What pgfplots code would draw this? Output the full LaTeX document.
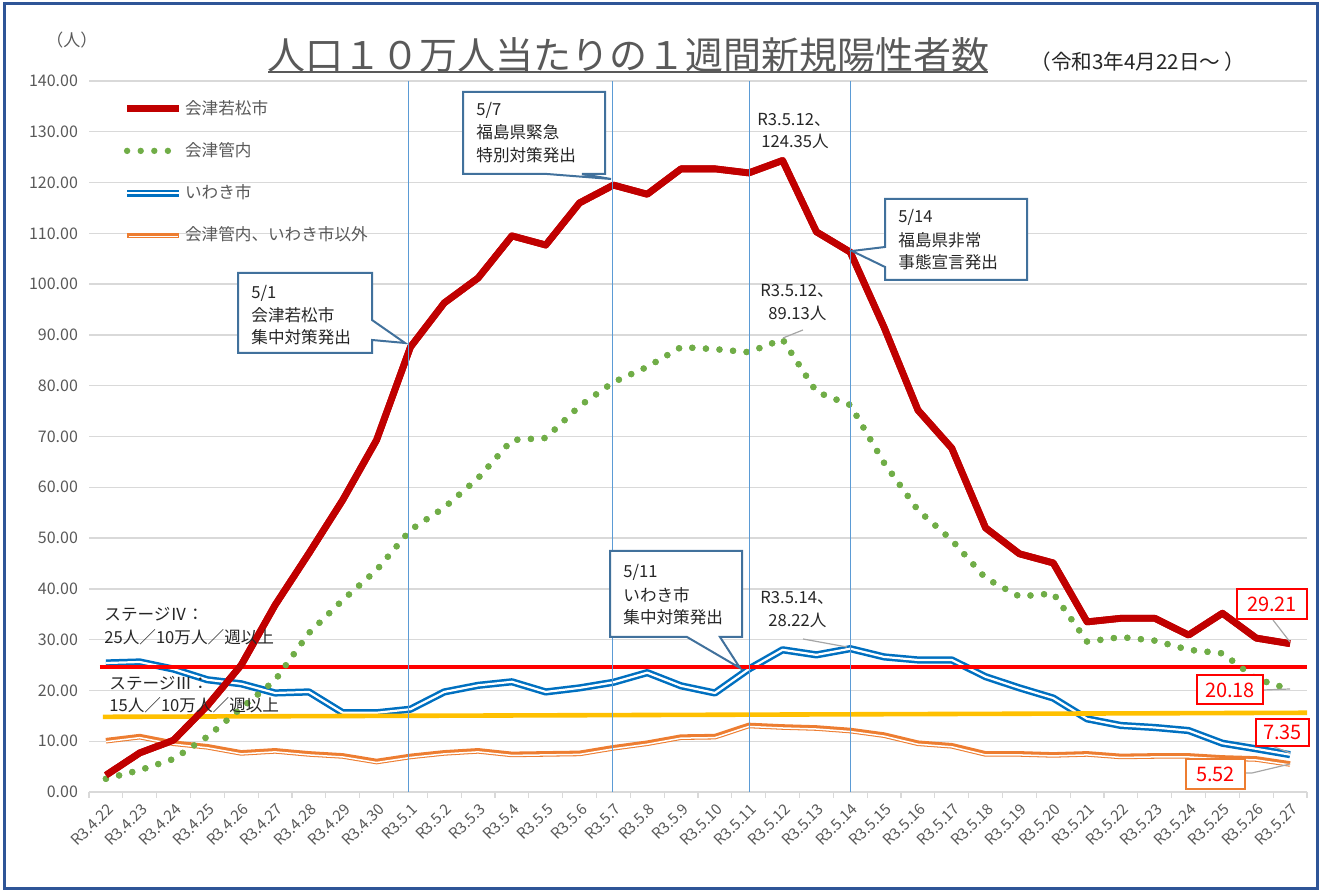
\documentclass[border=0pt]{standalone}
\usepackage{fontspec}
\setmainfont{Noto Sans CJK JP}
\usepackage{graphicx}
\usepackage{pgfplots}
\usepackage{pgfplotstable}
\pgfplotsset{compat=1.18}
\definecolor{cRed}{HTML}{C00000}
\definecolor{cGreen}{HTML}{70AD47}
\definecolor{cBlue}{HTML}{0070C0}
\definecolor{cOrange}{HTML}{ED7D31}
\definecolor{cTred}{HTML}{FF0000}
\definecolor{cTyel}{HTML}{FFC000}
\definecolor{cVert}{HTML}{5B9BD5}
\definecolor{cBox}{HTML}{41719C}
\definecolor{cFrame}{HTML}{2F5597}
\definecolor{cGrid}{HTML}{D9D9D9}
\definecolor{cTxt}{HTML}{595959}
\definecolor{cDark}{HTML}{262626}
\definecolor{cLead}{HTML}{A6A6A6}
\newcommand{\fs}[1]{\fontsize{#1}{#1}\selectfont}
\newcommand{\rl}[1]{\rotatebox{45}{#1}}
\pgfplotstableread{
i r g b o
0 3.3 2.6 25.4 10.1
1 7.7 4.3 25.6 10.9
2 10.2 6.5 24.2 9.6
3 17.0 10.9 22.1 8.9
4 25.0 16.5 21.3 7.7
5 36.8 22.0 19.5 8.1
6 47.0 31.3 19.7 7.5
7 57.5 37.8 15.6 7.1
8 69.3 43.7 15.6 6.0
9 87.6 51.6 16.3 7.0
10 96.3 56.0 19.7 7.7
11 101.2 61.8 21.0 8.1
12 109.5 69.3 21.7 7.4
13 107.7 69.7 19.7 7.5
14 116.0 76.0 20.5 7.6
15 119.5 80.7 21.6 8.7
16 117.7 83.7 23.5 9.6
17 122.7 87.6 20.9 10.8
18 122.7 87.2 19.5 10.9
19 121.9 86.6 24.2 13.1
20 124.35 89.13 28.0 12.8
21 110.3 78.8 27.0 12.6
22 106.3 76.2 28.22 12.1
23 91.5 64.8 26.6 11.2
24 75.2 55.5 26.0 9.6
25 67.7 49.6 26.0 9.1
26 52.0 42.1 22.7 7.5
27 46.9 38.5 20.5 7.5
28 45.1 39.1 18.5 7.3
29 33.5 29.6 14.4 7.5
30 34.2 30.5 13.1 7.0
31 34.2 29.8 12.7 7.1
32 30.9 28.0 12.1 7.1
33 35.2 27.3 9.6 6.7
34 30.3 22.3 8.5 6.5
35 29.21 20.18 7.35 5.52
}\data
\begin{document}
\begin{tikzpicture}
\useasboundingbox (0,0) rectangle (661pt,446.5pt);
\begin{axis}[
  at={(44.5pt,50.5pt)}, anchor=south west,
  scale only axis, width=609pt, height=355.5pt,
  xmin=-0.5, xmax=35.5, ymin=0, ymax=140,
  axis line style={draw=none},
  ytick={0,10,...,140},
  ymajorgrids, grid style={cGrid, line width=0.65pt},
  tick pos=left,
  major tick length=0pt,
  xtick={0,...,35},
  xticklabels={\rl{R3.4.22},\rl{R3.4.23},\rl{R3.4.24},\rl{R3.4.25},\rl{R3.4.26},\rl{R3.4.27},\rl{R3.4.28},\rl{R3.4.29},\rl{R3.4.30},\rl{R3.5.1},\rl{R3.5.2},\rl{R3.5.3},\rl{R3.5.4},\rl{R3.5.5},\rl{R3.5.6},\rl{R3.5.7},\rl{R3.5.8},\rl{R3.5.9},\rl{R3.5.10},\rl{R3.5.11},\rl{R3.5.12},\rl{R3.5.13},\rl{R3.5.14},\rl{R3.5.15},\rl{R3.5.16},\rl{R3.5.17},\rl{R3.5.18},\rl{R3.5.19},\rl{R3.5.20},\rl{R3.5.21},\rl{R3.5.22},\rl{R3.5.23},\rl{R3.5.24},\rl{R3.5.25},\rl{R3.5.26},\rl{R3.5.27}},
  xticklabel style={anchor=north east, font=\fs{7.6}, text=cTxt, inner sep=0pt, xshift=4.5pt, yshift=-5pt},
  yticklabel style={font=\fs{8}, text=cTxt, xshift=-2pt, /pgf/number format/.cd, fixed, fixed zerofill, precision=2, assume math mode=true},
  extra x ticks={-0.5,0.5,...,35.5},
  extra x tick labels={},
  extra x tick style={major tick length=3pt, tick align=outside, tick style={cGrid, line width=0.65pt}, xmajorgrids=false},
  legend style={at={(0.028,0.977)}, anchor=north west, draw=none, fill=none,
    font=\fs{8.3}, text=cTxt, row sep=10.2pt, inner sep=0pt,
    nodes={inner sep=1.2pt}},
  legend cell align=left,
  legend image code/.code={\draw[#1] (0pt,0pt) -- (26pt,0pt);},
]
\addplot[cRed, line width=3.4pt, line join=round] table[x=i,y=r]{\data};
\addlegendentry{会津若松市}
\addplot[cGreen, line width=3.2pt, line cap=round, dash pattern=on 0pt off 6.8pt] table[x=i,y=g]{\data};
\addlegendentry{会津管内}
\addplot[cBlue, line width=1.25pt, double=white, double distance=1.1pt, line join=round] table[x=i,y=b]{\data};
\addlegendentry{いわき市}
\addplot[cOrange, line width=2.8pt, line join=round,
  legend image code/.code={\draw[cOrange, line width=2.8pt] (0pt,0pt) -- (26pt,0pt); \draw[white, line width=0.75pt] (0.8pt,-0.5pt) -- (25.2pt,-0.5pt);}] table[x=i,y=o]{\data};
\addlegendentry{会津管内、いわき市以外}
\addplot[white, line width=0.75pt, line join=round, yshift=-0.5pt, forget plot] table[x=i,y=o]{\data};
% stage thresholds
\addplot[cTred, line width=2.2pt, forget plot] coordinates {(-0.18,24.6) (35.5,24.6)};
\addplot[cTyel, line width=2.3pt, forget plot] coordinates {(-0.09,14.8) (35.5,15.6)};
% redraw on top
\addplot[cGreen, line width=3.2pt, line cap=round, dash pattern=on 0pt off 6.8pt, forget plot] table[x=i,y=g]{\data};
\addplot[cRed, line width=3.4pt, line join=round, forget plot] table[x=i,y=r]{\data};
% date lines
\addplot[cVert, line width=0.55pt, forget plot] coordinates {(8.93,0) (8.93,140)};
\addplot[cVert, line width=0.55pt, forget plot] coordinates {(14.98,0) (14.98,140)};
\addplot[cVert, line width=0.55pt, forget plot] coordinates {(19.03,0) (19.03,140)};
\addplot[cVert, line width=0.55pt, forget plot] coordinates {(22.02,0) (22.02,140)};
\end{axis}
\begin{scope}[x=0.5pt,y=-0.5pt,yshift=446.5pt]
% frame
\draw[cFrame, line width=1.5pt] (4,4) rectangle (1317,889);
% titles
\node[font=\fs{19}, text=cTxt, inner sep=0pt] at (628,55) {人口１０万人当たりの１週間新規陽性者数};
\draw[cTxt, line width=0.8pt] (268,72) -- (988,72);
\node[font=\fs{10.3}, text=cDark, anchor=west, inner sep=0pt] at (1030,62) {（令和3年4月22日～ ）};
\node[font=\fs{8.5}, text=cTxt, inner sep=0pt] at (72,40) {（人）};
% callouts
\draw[cBox, line width=1pt, fill=white, line join=miter] (238,273) -- (372,273) -- (372,320) -- (405,343) -- (372,340) -- (372,353) -- (238,353) -- cycle;
\node[font=\fs{8.3}, text=cDark, anchor=west, inner sep=0pt] at (251,293) {5/1};
\node[font=\fs{8.3}, text=cDark, anchor=west, inner sep=0pt] at (251,315) {会津若松市};
\node[font=\fs{8.3}, text=cDark, anchor=west, inner sep=0pt] at (251,337) {集中対策発出};
\draw[cBox, line width=1pt, fill=white] (463,92) -- (605,92) -- (605,174) -- (582,174) -- (611,179) -- (547,174) -- (463,174) -- cycle;
\node[font=\fs{8.3}, text=cDark, anchor=west, inner sep=0pt] at (476,110) {5/7};
\node[font=\fs{8.3}, text=cDark, anchor=west, inner sep=0pt] at (476,132) {福島県緊急};
\node[font=\fs{8.3}, text=cDark, anchor=west, inner sep=0pt] at (476,155) {特別対策発出};
\draw[cBox, line width=1pt, fill=white] (885,199) -- (1027,199) -- (1027,280) -- (885,280) -- (885,267) -- (852,251) -- (885,247) -- cycle;
\node[font=\fs{8.3}, text=cDark, anchor=west, inner sep=0pt] at (898,217) {5/14};
\node[font=\fs{8.3}, text=cDark, anchor=west, inner sep=0pt] at (898,240) {福島県非常};
\node[font=\fs{8.3}, text=cDark, anchor=west, inner sep=0pt] at (898,262) {事態宣言発出};
\draw[cBox, line width=1pt, fill=white] (610,551) -- (742,551) -- (742,637) -- (720,637) -- (740,668) -- (687,637) -- (610,637) -- cycle;
\node[font=\fs{8.3}, text=cDark, anchor=west, inner sep=0pt] at (623,572) {5/11};
\node[font=\fs{8.3}, text=cDark, anchor=west, inner sep=0pt] at (623,595) {いわき市};
\node[font=\fs{8.3}, text=cDark, anchor=west, inner sep=0pt] at (623,617) {集中対策発出};
% peak labels
\node[font=\fs{8.3}, text=cDark, anchor=west, inner sep=0pt] at (757,120) {R3.5.12、};
\node[font=\fs{8.3}, text=cDark, anchor=west, inner sep=0pt] at (761,141) {124.35人};
\node[font=\fs{8.3}, text=cDark, anchor=west, inner sep=0pt] at (760,291) {R3.5.12、};
\node[font=\fs{8.3}, text=cDark, anchor=west, inner sep=0pt] at (768,313) {89.13人};
\draw[cLead, line width=0.6pt] (803,330) -- (783,338);
\node[font=\fs{8.3}, text=cDark, anchor=west, inner sep=0pt] at (760,598) {R3.5.14、};
\node[font=\fs{8.3}, text=cDark, anchor=west, inner sep=0pt] at (768,620) {28.22人};
\draw[cLead, line width=0.6pt] (803,639) -- (847,647);
% stage labels
\node[font=\fs{8.3}, text=cDark, anchor=west, inner sep=0pt] at (104,614) {ステージⅣ：};
\node[font=\fs{8.3}, text=cDark, anchor=west, inner sep=0pt] at (104,637) {25人／10万人／週以上};
\node[font=\fs{8.3}, text=cDark, anchor=west, inner sep=0pt] at (109,683) {ステージⅢ：};
\node[font=\fs{8.3}, text=cDark, anchor=west, inner sep=0pt] at (109,705) {15人／10万人／週以上};
% end value labels
\draw[cLead, line width=0.6pt] (1273,620) -- (1290,642);
\draw[cTred, line width=0.8pt, fill=white] (1237,589) rectangle (1307,619);
\node[font=\fs{10}, text=cTred, inner sep=0pt] at (1272,604) {29.21};
\draw[cLead, line width=0.6pt] (1263,690) -- (1290,689);
\draw[cTred, line width=0.8pt, fill=white] (1197,675) rectangle (1263,704);
\node[font=\fs{10}, text=cTred, inner sep=0pt] at (1230,690) {20.18};
\draw[cLead, line width=0.6pt] (1272,746) -- (1290,753);
\draw[cTred, line width=0.8pt, fill=white] (1256,719) rectangle (1309,746);
\node[font=\fs{10}, text=cTred, inner sep=0pt] at (1282.5,732.5) {7.35};
\draw[cLead, line width=0.6pt] (1245,773) -- (1252,773) -- (1290,764);
\draw[cOrange, line width=0.8pt, fill=white] (1186,759) rectangle (1245,789);
\node[font=\fs{10}, text=cTred, inner sep=0pt] at (1215.5,774) {5.52};
\end{scope}
\end{tikzpicture}
\end{document}
